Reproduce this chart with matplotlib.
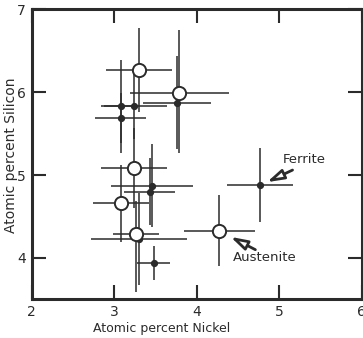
import matplotlib
matplotlib.use("Agg")
import matplotlib.pyplot as plt
import numpy as np

# open circles
open_x = [3.30, 3.79, 3.24, 3.08, 3.26, 4.27]
open_y = [6.27, 5.99, 5.08, 4.66, 4.29, 4.33]
open_xerr = [0.40, 0.60, 0.40, 0.34, 0.28, 0.43]
open_yerr_lo = [0.51, 0.72, 0.48, 0.47, 0.70, 0.43]
open_yerr_hi = [0.50, 0.76, 0.49, 0.46, 0.40, 0.43]

# filled dots
dot_x = [3.08, 3.24, 3.08, 3.76, 3.46, 3.43, 3.30, 3.48, 4.77]
dot_y = [5.83, 5.83, 5.69, 5.87, 4.87, 4.80, 4.23, 3.94, 4.88]
dot_xerr = [0.20, 0.40, 0.31, 0.41, 0.50, 0.31, 0.58, 0.20, 0.40]
dot_yerr = [0.56, 0.40, 0.30, 0.56, 0.50, 0.40, 0.55, 0.20, 0.45]

xticks = [2, 3, 4, 5, 6]
yticks = [4, 5, 6, 7]

ink = "#2b2b2b"

fig = plt.figure(figsize=(3.63, 3.38), dpi=100)
ax = fig.add_axes([0.087, 0.114, 0.91, 0.859])

ax.errorbar(dot_x, dot_y, xerr=dot_xerr, yerr=dot_yerr, fmt="none",
            ecolor=ink, elinewidth=1.1, capsize=0, zorder=2)
ax.errorbar(open_x, open_y, xerr=open_xerr,
            yerr=[open_yerr_lo, open_yerr_hi], fmt="none",
            ecolor=ink, elinewidth=1.1, capsize=0, zorder=2)
ax.plot(dot_x, dot_y, "o", ms=4.2, color=ink, zorder=3)
ax.plot(open_x, open_y, "o", ms=9.5, mfc="white", mec=ink, mew=1.4, zorder=4)

# thick shaft, hollow head
arrow = dict(arrowstyle="-|>,head_length=1.0,head_width=0.3",
             fc="white", ec=ink, lw=2.0, shrinkA=0, shrinkB=2)
ax.annotate("", xy=(4.82, 4.90), xytext=(5.16, 5.06), arrowprops=arrow)
ax.annotate("", xy=(4.38, 4.27), xytext=(4.71, 4.10), arrowprops=arrow)
ax.text(5.30, 5.19, "Ferrite", ha="center", va="center", fontsize=9.5, color=ink)
ax.text(4.82, 4.00, "Austenite", ha="center", va="center", fontsize=9.5, color=ink)

ax.set_xlim(2, 6)
ax.set_ylim(3.5, 7)
ax.set_xticks(xticks)
ax.set_yticks(yticks)
ax.tick_params(direction="in", length=10, width=1.5, colors=ink,
               labelsize=10, top=True, right=True, pad=4)
for s in ax.spines.values():
    s.set_linewidth(2.2)
    s.set_color(ink)

ax.set_xlabel("Atomic percent Nickel", fontsize=9, color=ink)
ax.set_ylabel("Atomic percent Silicon", fontsize=10, color=ink)
ax.xaxis.set_label_coords(0.395, -0.078)
ax.yaxis.set_label_coords(-0.042, 0.497)

fig.savefig("out.png", dpi=100)
